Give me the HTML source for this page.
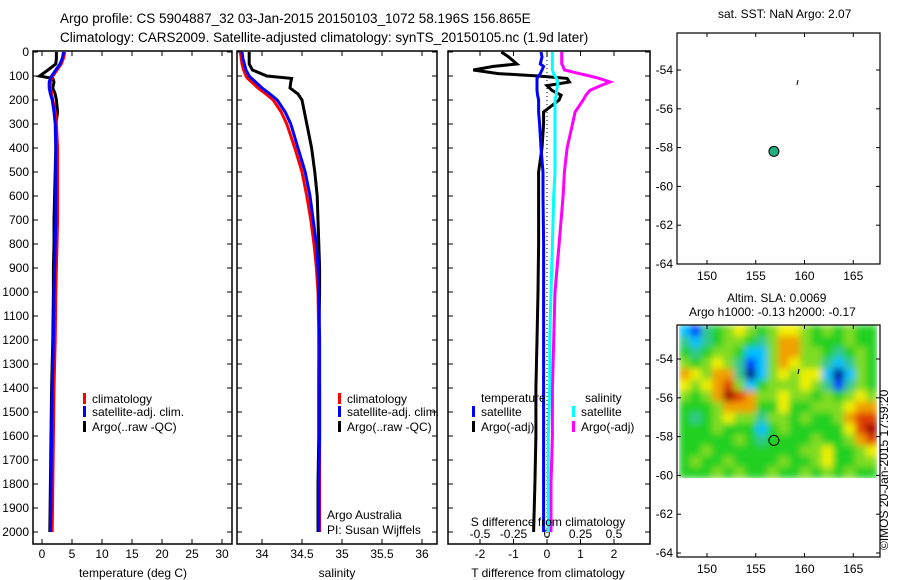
<!DOCTYPE html>
<html><head><meta charset="utf-8"><style>
body{margin:0;background:#fff;}
svg{display:block;font-family:"Liberation Sans",sans-serif;}
text{font-size:12px;fill:#000;}
</style></head><body>
<svg id="c" width="900" height="580" xmlns="http://www.w3.org/2000/svg">
<defs>
<filter id="blur" x="0" y="0" width="1" height="1"><feGaussianBlur stdDeviation="3.5" edgeMode="duplicate"/></filter>
<clipPath id="slaclip"><rect x="679" y="325" width="198" height="153"/></clipPath>
</defs>
<text x="60" y="23" style="font-size:13.5px">Argo profile: CS 5904887_32 03-Jan-2015 20150103_1072 58.196S 156.865E</text>
<text x="60" y="42" style="font-size:13.5px">Climatology: CARS2009. Satellite-adjusted climatology: synTS_20150105.nc (1.9d later)</text>
<text x="718" y="18">sat. SST: NaN Argo: 2.07</text>
<text x="727" y="302">Altim. SLA: 0.0069</text>
<text x="689" y="316">Argo h1000: -0.13 h2000: -0.17</text>
<text transform="translate(888,550) rotate(-90)">©IMOS 20-Jan-2015 17:59:20</text>
<g id="heat" clip-path="url(#slaclip)"><g id="heatin" filter="url(#blur)"></g></g>
<g id="g"></g>
</svg>
<script>
const depths=[0,25,50,75,100,110,125,150,175,200,250,300,400,500,600,700,800,900,1000,1200,1400,1600,1800,2000];
const tempClim=[3.8,3.6,3.2,2.5,1.8,1.6,1.4,1.4,1.6,1.8,2.2,2.4,2.6,2.6,2.6,2.6,2.5,2.4,2.3,2.2,2.0,1.9,1.8,1.7];
const tempSat=[3.6,3.4,3.0,2.3,1.6,1.4,1.2,1.2,1.4,1.7,2.0,2.2,2.3,2.3,2.3,2.3,2.2,2.1,2.0,1.9,1.7,1.6,1.5,1.4];
const tempArgo=[2.4,2.4,2.3,1.0,-0.4,1.8,2.0,1.8,2.2,2.4,2.6,2.3,2.3,2.2,2.1,2.0,2.0,1.9,1.9,1.8,1.6,1.5,1.4,1.3];
const salClim=[33.73,33.74,33.75,33.77,33.80,33.82,33.87,33.95,34.05,34.14,34.24,34.31,34.41,34.50,34.56,34.61,34.65,34.68,34.70,34.71,34.72,34.72,34.72,34.72];
const salSat=[33.75,33.76,33.78,33.80,33.84,33.87,33.92,34.00,34.10,34.19,34.29,34.36,34.45,34.54,34.60,34.64,34.68,34.70,34.71,34.72,34.72,34.72,34.71,34.71];
const salArgo=[33.84,33.84,33.84,33.88,34.06,34.37,34.36,34.35,34.45,34.50,34.53,34.56,34.62,34.66,34.69,34.70,34.71,34.72,34.72,34.71,34.71,34.71,34.70,34.70];
const diffDepths=[0,20,50,60,75,90,100,110,125,140,160,180,200,250,300,400,500,600,800,1000,1200,1400,1600,1800,2000];
const dTArgo=[-1.36,-1.15,-0.9,-1.6,-2.2,-1.45,-0.25,0.6,0.67,0,0.15,0.42,0.36,-0.1,-0.1,-0.15,-0.25,-0.25,-0.25,-0.27,-0.3,-0.33,-0.33,-0.36,-0.4];
const dTSat=[-0.18,-0.15,-0.2,-0.1,-0.15,-0.2,-0.25,-0.3,-0.3,-0.3,-0.3,-0.28,-0.25,-0.25,-0.22,-0.18,-0.12,-0.12,-0.1,-0.1,-0.1,-0.1,-0.1,-0.1,-0.1];
const dSSat=[0.04,0.04,0.04,0.04,0.04,0.05,0.06,0.07,0.08,0.08,0.07,0.07,0.06,0.06,0.06,0.06,0.06,0.05,0.04,0.03,0.02,0.02,0.01,0.01,0.01];
const dSArgo=[0.11,0.11,0.11,0.12,0.13,0.24,0.32,0.39,0.47,0.40,0.32,0.29,0.27,0.21,0.19,0.15,0.13,0.12,0.09,0.06,0.05,0.04,0.04,0.03,0.03];
const depthTicks=[0,100,200,300,400,500,600,700,800,900,1000,1100,1200,1300,1400,1500,1600,1700,1800,1900,2000];
const tempTicks=[0,5,10,15,20,25,30];
const salTicks=[34,34.5,35,35.5,36];
const dTTicks=[-2,-1,0,1,2];
const dSTicks=[-0.5,-0.25,0,0.25,0.5];
const latTicks=[-54,-56,-58,-60,-62,-64];
const lonTicks=[150,155,160,165];
const slaGrid=[
[3,2,4,5,6,7,6,5,6,7,7,6,5,6,5,6,5,5],
[4,3,4,5,6,6,5,4,6,8,8,6,5,5,5,6,5,5],
[5,4,5,6,6,5,3,3,6,8,8,6,6,5,4,5,6,5],
[6,5,6,7,6,4,2,3,6,8,7,6,6,4,3,4,6,5],
[8,7,6,8,8,4,1,3,6,7,6,7,7,3,1,3,6,5],
[7,6,7,8,9,6,3,5,6,6,6,7,6,4,2,4,6,5],
[6,5,6,8,10,9,8,6,6,7,6,6,5,6,5,6,7,6],
[5,5,5,6,8,8,8,5,5,7,5,5,6,6,6,7,8,8],
[5,4,5,6,7,6,6,4,6,6,5,6,5,5,6,8,9,9],
[5,5,5,6,5,5,5,3,5,6,5,5,5,5,5,7,9,10],
[5,5,5,5,5,6,5,4,5,5,5,5,6,5,5,6,8,9],
[5,5,6,5,5,5,5,5,5,5,5,6,6,7,5,5,6,7],
[5,6,5,5,6,5,5,5,5,6,5,5,6,7,5,5,6,6],
[5,5,5,6,5,6,5,5,6,5,5,6,5,6,5,6,5,5]];
const argoLon=156.865, argoLat=-58.196;

const NS="http://www.w3.org/2000/svg";
const G=document.getElementById('g');
const H=document.getElementById('heatin');
function mk(t,a,p){const e=document.createElementNS(NS,t);for(const k in a)e.setAttribute(k,a[k]);(p||G).appendChild(e);return e;}
const yD=d=>52+0.24*d;
const xT=v=>42+6*v, xS=v=>262+80*(v-34), xdT=v=>547+33.5*v, xdS=v=>547+134*v;
const lonX=v=>707+9.75*(v-150);
const latY1=v=>70+19.4*(-54-v), latY2=v=>359+19.4*(-54-v);

function axes(x0,x1,name,yl){
  const r=mk('rect',{x:x0,y:51,width:x1-x0,height:493,fill:'none',stroke:'#000','stroke-width':1.5});
  
  depthTicks.forEach(d=>{mk('line',{x1:x0,x2:x0+5,y1:yD(d),y2:yD(d),stroke:'#000'});mk('line',{x1:x1,x2:x1-5,y1:yD(d),y2:yD(d),stroke:'#000'});
   if(yl){const t=mk('text',{x:x0-4,y:yD(d)+4,'text-anchor':'end'});t.textContent=d;
   }});
}
function xticks(arr,f,name,ty){arr.forEach(v=>{mk('line',{x1:f(v),x2:f(v),y1:544,y2:539,stroke:'#000'});mk('line',{x1:f(v),x2:f(v),y1:51,y2:56,stroke:'#000'});
 const t=mk('text',{x:f(v),y:ty,'text-anchor':'middle'});t.textContent=v;});}
function line(vals,dep,f,col,name,w){const p=vals.map((v,i)=>f(v).toFixed(1)+','+yD(dep[i]).toFixed(1)).join(' ');
 const e=mk('polyline',{points:p,fill:'none',stroke:col,'stroke-width':w||3});}
function lab(x,y,s,name,anchor){const t=mk('text',{x:x,y:y,'text-anchor':anchor||'start'});t.textContent=s;return t;}
function leg(x,y,col,s,name){mk('rect',{x:x,y:y-10,width:3,height:11,fill:col});lab(x+9,y,s,name);}

// panel 1
axes(33,232,'temperature-panel',true);xticks(tempTicks,xT,'temp-tick-label',558);
line(tempArgo,depths,xT,'#000','argo-temp-line');line(tempClim,depths,xT,'#f00','clim-temp-line');line(tempSat,depths,xT,'#00f','sat-temp-line');
lab(133,577,'temperature (deg C)','temp-axis-title','middle');
leg(83,403,'#f00','climatology','legend-climatology');leg(83,416,'#00f','satellite-adj. clim.','legend-satellite');leg(83,431,'#000','Argo(..raw -QC)','legend-argo');
// panel 2
axes(237,437,'salinity-panel',false);xticks(salTicks,xS,'sal-tick-label',558);
line(salArgo,depths,xS,'#000','argo-sal-line');line(salClim,depths,xS,'#f00','clim-sal-line');line(salSat,depths,xS,'#00f','sat-sal-line');
lab(337,577,'salinity','sal-axis-title','middle');
leg(338,403,'#f00','climatology','legend2-climatology');leg(338,416,'#00f','satellite-adj. clim.','legend2-satellite');leg(338,431,'#000','Argo(..raw -QC)','legend2-argo');
lab(327,519,'Argo Australia','argo-australia-note');lab(327,534,'PI: Susan Wijffels','pi-note');
// panel 3
axes(448,650,'difference-panel',false);xticks(dTTicks,xdT,'dT-tick-label',558);
dSTicks.forEach(v=>lab(xdS(v),538,v,'dS-tick-label','middle'));
mk('line',{x1:xdT(0),x2:xdT(0),y1:52,y2:544,stroke:'#000','stroke-dasharray':'1,3'});
line(dTArgo,diffDepths,xdT,'#000','argo-dT-line');line(dTSat,diffDepths,xdT,'#00f','sat-dT-line');
line(dSArgo,diffDepths,xdS,'#f0f','argo-dS-line');line(dSSat,diffDepths,xdS,'#0ff','sat-dS-line');
lab(481,402,'temperature','legend3-temp-header');lab(585,402,'salinity','legend3-sal-header');
leg(472,416,'#00f','satellite','legend3-temp-sat');leg(472,431,'#000','Argo(-adj)','legend3-temp-argo');
leg(572,416,'#0ff','satellite','legend3-sal-sat');leg(572,431,'#f0f','Argo(-adj)','legend3-sal-argo');
lab(548,526,'S difference from climatology','dS-axis-title','middle');
lab(548,577,'T difference from climatology','dT-axis-title','middle');
// maps
function map(y0,y1,fy,name){const r=mk('rect',{x:677,y:y0,width:203,height:y1-y0,fill:'none',stroke:'#000','stroke-width':1.2});
 
 latTicks.forEach(v=>{mk('line',{x1:677,x2:681,y1:fy(v),y2:fy(v),stroke:'#000'});mk('line',{x1:880,x2:876,y1:fy(v),y2:fy(v),stroke:'#000'});lab(673,fy(v)+4,v,'lat-tick-label','end');});
 lonTicks.forEach(v=>{mk('line',{x1:lonX(v),x2:lonX(v),y1:y1,y2:y1-4,stroke:'#000'});mk('line',{x1:lonX(v),x2:lonX(v),y1:y0,y2:y0+4,stroke:'#000'});lab(lonX(v),y1+16,v,'lon-tick-label','middle');});}
map(33,264,latY1,'sst-map');
const cols=['#00007f','#00008f','#0040ff','#00c0ff','#30c890','#20d020','#80dc20','#f0f000','#f0a000','#e04000','#a00000'];
const cw=198/slaGrid[0].length, ch=153/slaGrid.length;
slaGrid.forEach((row,i)=>row.forEach((v,j)=>{const c=mk('rect',{x:679+j*cw,y:325+i*ch,width:cw+0.5,height:ch+0.5,fill:cols[v]},H);
 }));
map(325,557,latY2,'sla-map');
mk('line',{x1:798,x2:797,y1:80,y2:85,stroke:'#000'});mk('line',{x1:799,x2:798,y1:369,y2:374,stroke:'#000'});
const p1=mk('circle',{cx:lonX(argoLon),cy:latY1(argoLat),r:5,fill:'#20b080',stroke:'#000'});
const p2=mk('circle',{cx:lonX(argoLon),cy:latY2(argoLat),r:5,fill:'none',stroke:'#000'});
</script>
</body></html>
